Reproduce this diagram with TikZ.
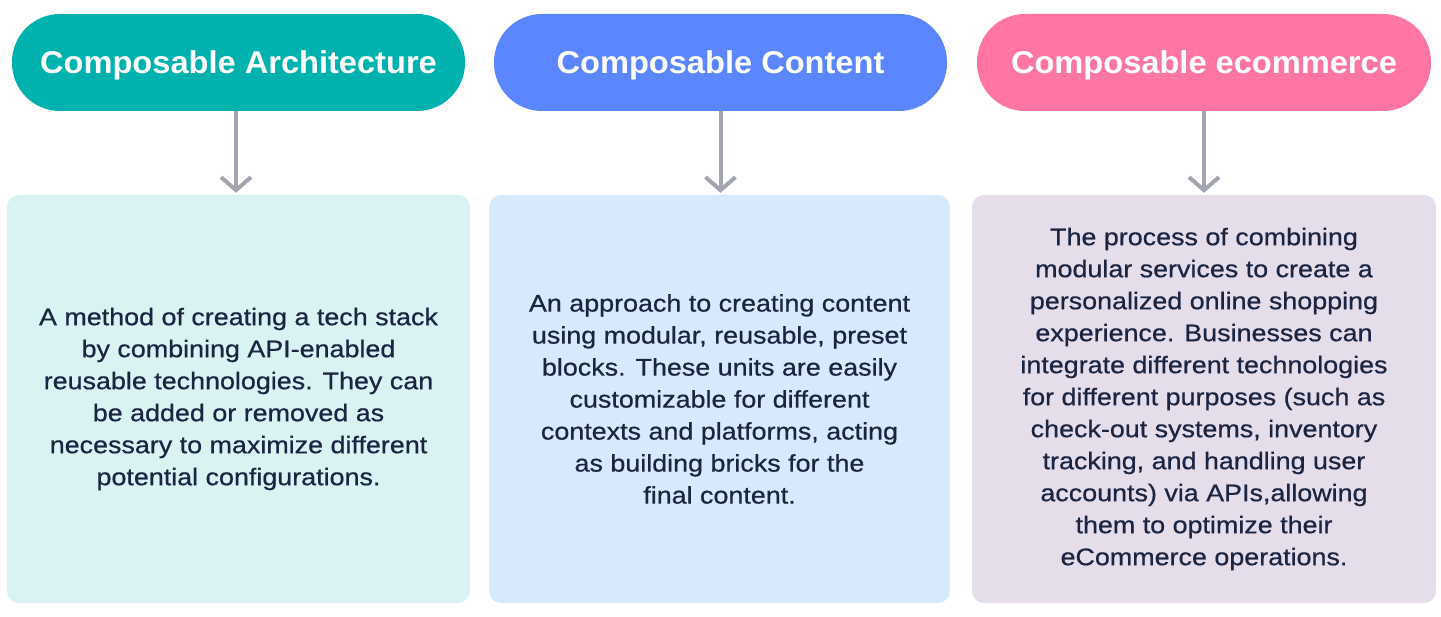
\documentclass[tikz,border=0pt]{standalone}
\usepackage{fontspec}
\setmainfont{Liberation Sans}
\newfontfamily\bodyfont[FakeStretch=1.12, FakeBold=0.6]{Liberation Sans}
\newfontfamily\headfont[FakeStretch=1.035]{Liberation Sans}
\usetikzlibrary{arrows.meta}
\definecolor{tealc}{HTML}{00B2AE}
\definecolor{bluec}{HTML}{5B86FF}
\definecolor{pinkc}{HTML}{FF76A6}
\definecolor{tealbg}{HTML}{D9F3F3}
\definecolor{bluebg}{HTML}{D6EAFB}
\definecolor{pinkbg}{HTML}{E6DDEB}
\definecolor{txt}{HTML}{1B2541}
\definecolor{arr}{HTML}{A3A5B0}
\tikzset{
  pill/.style={rounded corners=48pt, minimum width=453pt, minimum height=97pt, inner sep=0pt,
    text=white, text height=23pt, text depth=0pt, font=\headfont\fontsize{31.5}{36}\selectfont\bfseries},
  card/.style={rounded corners=12pt, minimum height=408pt, inner sep=0pt, text=txt,
    align=center, font=\bodyfont\fontsize{24}{32}\selectfont},
  link/.style={draw=arr, line width=4pt, -{Straight Barb[length=13pt,width=30pt,line width=4pt]}}
}
\begin{document}
\begin{tikzpicture}[x=1pt,y=-1pt]
\useasboundingbox (0,0) rectangle (1441,617);
\node[pill, fill=tealc] (p1) at (238.5,62.5) {Composable Architecture};
\node[pill, fill=bluec] (p2) at (720.5,62.5) {Composable Content};
\node[pill, fill=pinkc, minimum width=454pt] (p3) at (1204,62.5) {Composable ecommerce};
\node[card, fill=tealbg, minimum width=463pt] (b1) at (238.5,399) {A method of creating a tech stack\\by combining API-enabled\\reusable technologies. They can\\be added or removed as\\necessary to maximize different\\potential configurations.};
\node[card, fill=bluebg, minimum width=461pt] (b2) at (719.5,399) {An approach to creating content\\using modular, reusable, preset\\blocks. These units are easily\\customizable for different\\contexts and platforms, acting\\as building bricks for the\\final content.};
\node[card, fill=pinkbg, minimum width=464pt] (b3) at (1204,399) {The process of combining\\modular services to create a\\personalized online shopping\\experience. Businesses can\\integrate different technologies\\for different purposes (such as\\check-out systems, inventory\\tracking, and handling user\\accounts) via APIs,allowing\\them to optimize their\\eCommerce operations.};
\draw[link] ([xshift=-2.5pt]p1.south) -- ([xshift=-2.5pt,yshift=2pt]b1.north);
\draw[link] (p2.south) -- ([xshift=1pt,yshift=2pt]b2.north);
\draw[link] (p3.south) -- ([yshift=2pt]b3.north);
\end{tikzpicture}
\end{document}
